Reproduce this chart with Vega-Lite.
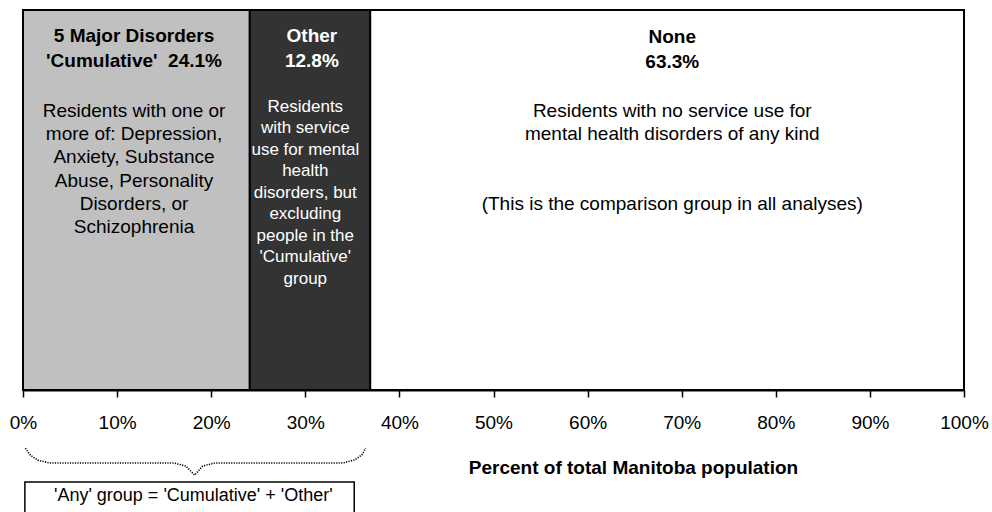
{
  "$schema": "https://vega.github.io/schema/vega-lite/v6.json",
  "autosize": {"type": "none"},
  "width": 941,
  "height": 380,
  "padding": {"left": 23, "right": 28, "top": 10, "bottom": 122},
  "background": "white",
  "config": {"font": "Liberation Sans", "view": {"stroke": null}},
  "datasets": {
    "bars": [
      {"group": "5 Major Disorders", "start": 0, "end": 24.1},
      {"group": "Other", "start": 24.1, "end": 36.9},
      {"group": "None", "start": 36.9, "end": 100}
    ],
    "labels": [
      {"kind": "head", "text": "5 Major Disorders\n'Cumulative'\u00a0 24.1%", "x": 11.8, "v": 91.6},
      {"kind": "body", "text": "Residents with one or\nmore of: Depression,\nAnxiety, Substance\nAbuse, Personality\nDisorders, or\nSchizophrenia", "x": 11.8, "v": 71.84},
      {"kind": "headWhite", "text": "Other\n12.8%", "x": 30.7, "v": 91.6},
      {"kind": "bodyWhite", "text": "Residents\nwith service\nuse for mental\nhealth\ndisorders, but\nexcluding\npeople in the\n'Cumulative'\ngroup", "x": 30.0, "v": 73.16},
      {"kind": "head", "text": "None\n63.3%", "x": 69.0, "v": 91.3},
      {"kind": "body", "text": "Residents with no service use for\nmental health disorders of any kind", "x": 69.0, "v": 71.84},
      {"kind": "body", "text": "(This is the comparison group in all analyses)", "x": 69.0, "v": 47.4},
      {"kind": "note", "text": "'Any' group = 'Cumulative' + 'Other'", "x": 18.1, "v": -29.2}
    ],
    "brace": [
      {"i": 1, "x": 0.25, "v": -15.3},
      {"i": 2, "x": 0.8, "v": -17.2},
      {"i": 3, "x": 1.6, "v": -18.5},
      {"i": 4, "x": 2.84, "v": -19.2},
      {"i": 5, "x": 16.0, "v": -19.2},
      {"i": 6, "x": 17.3, "v": -20.0},
      {"i": 7, "x": 18.24, "v": -22.4},
      {"i": 8, "x": 19.1, "v": -20.0},
      {"i": 9, "x": 20.4, "v": -19.2},
      {"i": 10, "x": 33.97, "v": -19.2},
      {"i": 11, "x": 35.25, "v": -18.4},
      {"i": 12, "x": 36.0, "v": -17.1},
      {"i": 13, "x": 36.42, "v": -15.3}
    ],
    "box": [
      {"label": "Any", "x": 0.2, "x2": 35.2, "v": -24.2, "v2": -60}
    ]
  },
  "layer": [
    {
      "data": {"name": "bars"},
      "mark": {"type": "rect", "stroke": "black", "strokeWidth": 2},
      "encoding": {
        "x": {
          "field": "start", "type": "quantitative",
          "scale": {"domain": [0, 100], "nice": false},
          "axis": {
            "values": [0, 10, 20, 30, 40, 50, 60, 70, 80, 90, 100],
            "labelExpr": "datum.value + '%'",
            "grid": false,
            "domainColor": "black", "domainWidth": 2,
            "tickColor": "black", "tickWidth": 1.5, "tickSize": 7,
            "labelFont": "Liberation Sans", "labelFontSize": 19, "labelColor": "black",
            "labelPadding": 16, "labelFlush": false, "labelOverlap": false,
            "title": "Percent of total Manitoba population",
            "titleFont": "Liberation Sans", "titleFontSize": 19, "titleFontWeight": "bold",
            "titleColor": "black", "titleX": 610, "titleY": 83,
            "titleBaseline": "alphabetic", "titleAlign": "center", "titleAnchor": null
          }
        },
        "x2": {"field": "end"},
        "fill": {
          "field": "group", "type": "nominal",
          "scale": {"domain": ["5 Major Disorders", "Other", "None"], "range": ["#C0C0C0", "#333333", "#FFFFFF"]},
          "legend": null
        }
      }
    },
    {
      "data": {"name": "box"},
      "mark": {"type": "rect", "fill": "white", "stroke": "black", "strokeWidth": 1.5},
      "encoding": {
        "x": {"field": "x", "type": "quantitative"},
        "x2": {"field": "x2"},
        "y": {"field": "v", "type": "quantitative", "scale": {"domain": [0, 100], "nice": false, "zero": false}, "axis": null},
        "y2": {"field": "v2"}
      }
    },
    {
      "data": {"name": "brace"},
      "mark": {"type": "line", "color": "black", "strokeWidth": 1.6, "strokeDash": [1.2, 1.3], "strokeCap": "butt"},
      "encoding": {
        "x": {"field": "x", "type": "quantitative"},
        "y": {"field": "v", "type": "quantitative"},
        "order": {"field": "i", "type": "quantitative"}
      }
    },
    {
      "data": {"name": "labels"},
      "transform": [{"filter": "datum.kind === 'head'"}],
      "mark": {"type": "text", "fontSize": 19, "fontWeight": "bold", "color": "black", "align": "center", "baseline": "alphabetic", "lineBreak": "\n", "lineHeight": 25},
      "encoding": {
        "x": {"field": "x", "type": "quantitative"},
        "y": {"field": "v", "type": "quantitative"},
        "text": {"field": "text"}
      }
    },
    {
      "data": {"name": "labels"},
      "transform": [{"filter": "datum.kind === 'headWhite'"}],
      "mark": {"type": "text", "fontSize": 19, "fontWeight": "bold", "color": "white", "align": "center", "baseline": "alphabetic", "lineBreak": "\n", "lineHeight": 25},
      "encoding": {
        "x": {"field": "x", "type": "quantitative"},
        "y": {"field": "v", "type": "quantitative"},
        "text": {"field": "text"}
      }
    },
    {
      "data": {"name": "labels"},
      "transform": [{"filter": "datum.kind === 'body'"}],
      "mark": {"type": "text", "fontSize": 19, "color": "black", "align": "center", "baseline": "alphabetic", "lineBreak": "\n", "lineHeight": 23.2},
      "encoding": {
        "x": {"field": "x", "type": "quantitative"},
        "y": {"field": "v", "type": "quantitative"},
        "text": {"field": "text"}
      }
    },
    {
      "data": {"name": "labels"},
      "transform": [{"filter": "datum.kind === 'bodyWhite'"}],
      "mark": {"type": "text", "fontSize": 17, "color": "white", "align": "center", "baseline": "alphabetic", "lineBreak": "\n", "lineHeight": 21.5},
      "encoding": {
        "x": {"field": "x", "type": "quantitative"},
        "y": {"field": "v", "type": "quantitative"},
        "text": {"field": "text"}
      }
    },
    {
      "data": {"name": "labels"},
      "transform": [{"filter": "datum.kind === 'note'"}],
      "mark": {"type": "text", "fontSize": 18, "color": "black", "align": "center", "baseline": "alphabetic"},
      "encoding": {
        "x": {"field": "x", "type": "quantitative"},
        "y": {"field": "v", "type": "quantitative"},
        "text": {"field": "text"}
      }
    }
  ]
}
